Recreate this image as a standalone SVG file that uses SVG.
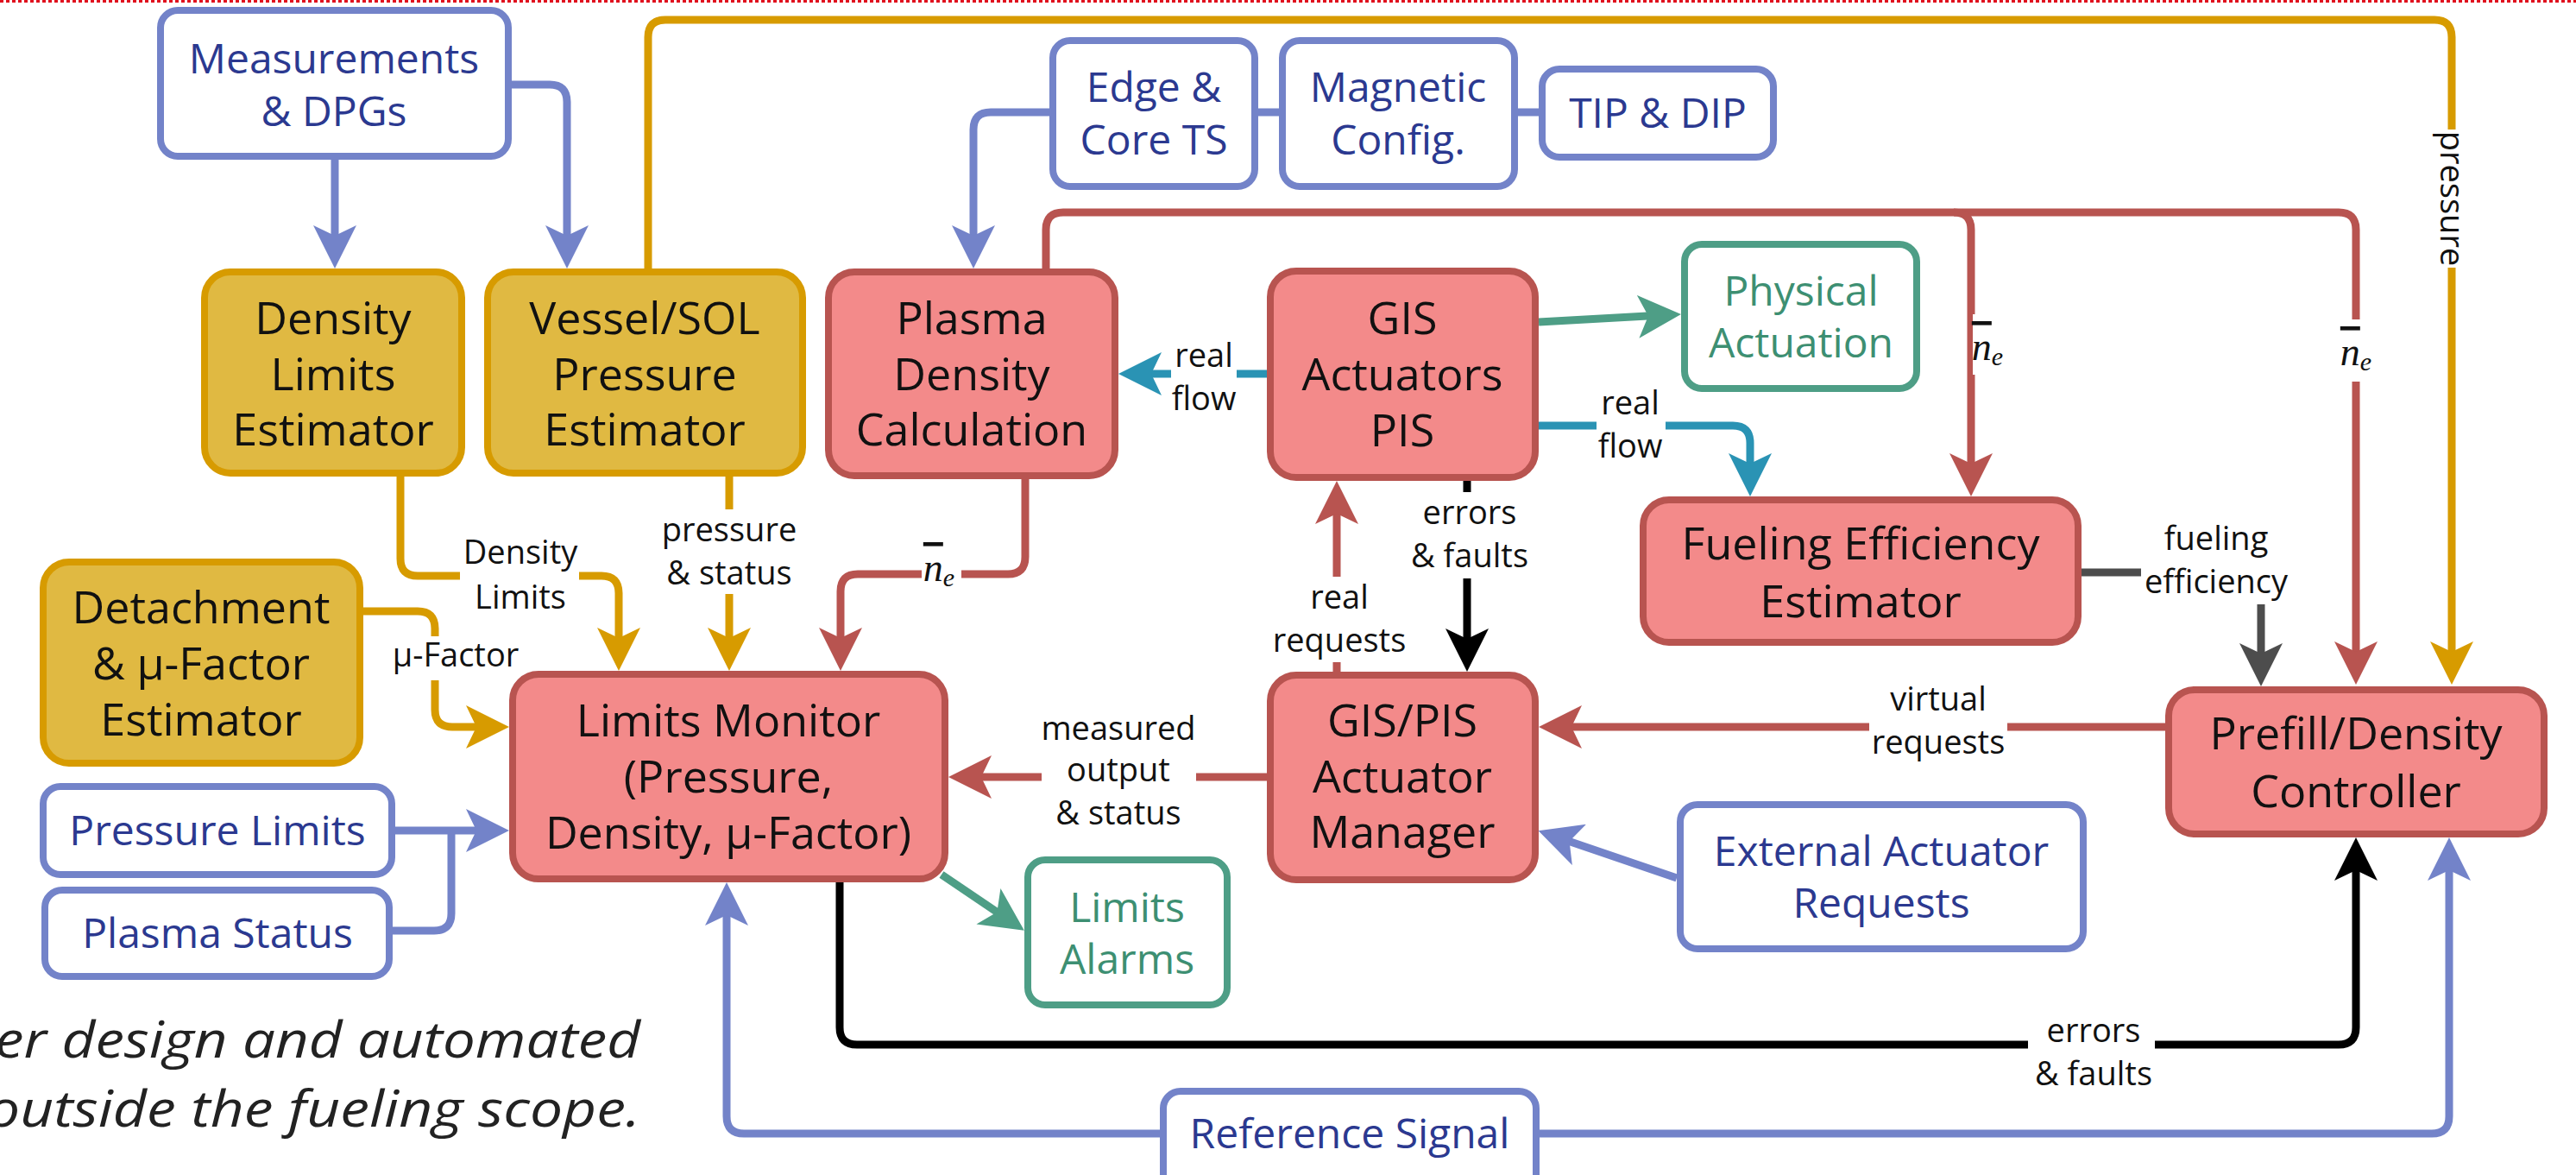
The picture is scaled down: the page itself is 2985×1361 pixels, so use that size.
<svg xmlns="http://www.w3.org/2000/svg" width="2985" height="1361" viewBox="0 0 2985 1361">
<style>
  .nr rect{fill:#F38A8A;stroke:#B85450;stroke-width:8}
  .ng rect{fill:#E0B942;stroke:#D79B00;stroke-width:8}
  .nb rect{fill:#fff;stroke:#7383C9;stroke-width:8}
  .ngr rect{fill:#fff;stroke:#4E9E86;stroke-width:8}
  text{font-family:"Open Sans","Noto Sans","DejaVu Sans",sans-serif;text-anchor:middle}
  .tm{font-size:52px;fill:#111}
  .tb{font-size:48px;fill:#2B3990}
  .tg{font-size:48px;fill:#3D8F72}
  .lbl{font-size:38px;fill:#111}
  .c{fill:none;stroke-width:9}
  .bg{fill:#fff}
  .blue{stroke:#7383C9}.gold{stroke:#D79B00}.red{stroke:#B85450}.blk{stroke:#000}.gray{stroke:#4D4D4D}.teal{stroke:#2A93B4}.green{stroke:#4E9E86}
  .ne{font-family:"Liberation Serif","DejaVu Serif",serif;font-style:italic;font-size:46px;fill:#111}
  .cap{font-style:italic;font-size:58px;fill:#222;text-anchor:end}
</style>
<defs>
  <marker id="ab" viewBox="-50 -25 50 50" refX="-30" refY="0" markerWidth="50" markerHeight="50" markerUnits="userSpaceOnUse" orient="auto"><path d="M0,0 L-50,-25 L-38,0 L-50,25 Z" fill="#7383C9"/></marker>
  <marker id="ag" viewBox="-50 -25 50 50" refX="-30" refY="0" markerWidth="50" markerHeight="50" markerUnits="userSpaceOnUse" orient="auto"><path d="M0,0 L-50,-25 L-38,0 L-50,25 Z" fill="#D79B00"/></marker>
  <marker id="ar" viewBox="-50 -25 50 50" refX="-30" refY="0" markerWidth="50" markerHeight="50" markerUnits="userSpaceOnUse" orient="auto"><path d="M0,0 L-50,-25 L-38,0 L-50,25 Z" fill="#B85450"/></marker>
  <marker id="ak" viewBox="-50 -25 50 50" refX="-30" refY="0" markerWidth="50" markerHeight="50" markerUnits="userSpaceOnUse" orient="auto"><path d="M0,0 L-50,-25 L-38,0 L-50,25 Z" fill="#000"/></marker>
  <marker id="ay" viewBox="-50 -25 50 50" refX="-30" refY="0" markerWidth="50" markerHeight="50" markerUnits="userSpaceOnUse" orient="auto"><path d="M0,0 L-50,-25 L-38,0 L-50,25 Z" fill="#4D4D4D"/></marker>
  <marker id="at" viewBox="-50 -25 50 50" refX="-30" refY="0" markerWidth="50" markerHeight="50" markerUnits="userSpaceOnUse" orient="auto"><path d="M0,0 L-50,-25 L-38,0 L-50,25 Z" fill="#2A93B4"/></marker>
  <marker id="an" viewBox="-50 -25 50 50" refX="-30" refY="0" markerWidth="50" markerHeight="50" markerUnits="userSpaceOnUse" orient="auto"><path d="M0,0 L-50,-25 L-38,0 L-50,25 Z" fill="#4E9E86"/></marker>
</defs>
<rect x="0" y="0" width="2985" height="1361" fill="#fff"/>
<line x1="0" y1="1.5" x2="2985" y2="1.5" stroke="#E0101E" stroke-width="3" stroke-dasharray="4 3"/>

<g id="connectors">
  <!-- blue -->
  <path class="c blue" d="M388,185 V281" marker-end="url(#ab)"/>
  <path class="c blue" d="M593,98 H637 Q657,98 657,118 V281" marker-end="url(#ab)"/>
  <path class="c blue" d="M1783,130 H1759 M1482,130 H1458"/>
  <path class="c blue" d="M1216,130 H1148 Q1128,130 1128,150 V281" marker-end="url(#ab)"/>
  <path class="c blue" d="M458,962 H560" marker-end="url(#ab)"/>
  <path class="c blue" d="M455,1078 H503 Q523,1078 523,1058 V962"/>
  <path class="c blue" d="M1943,1017 L1811,972" marker-end="url(#ab)"/>
  <path class="c blue" d="M1344,1313 H862 Q842,1313 842,1293 V1052" marker-end="url(#ab)"/>
  <path class="c blue" d="M1784,1313 H2818 Q2838,1313 2838,1293 V1000" marker-end="url(#ab)"/>
  <!-- gold -->
  <path class="c gold" d="M464,552 V647 Q464,667 484,667 H697 Q717,667 717,687 V747" marker-end="url(#ag)"/>
  <path class="c gold" d="M845,552 V747" marker-end="url(#ag)"/>
  <path class="c gold" d="M421,708 H484 Q504,708 504,728 V822 Q504,842 524,842 H560" marker-end="url(#ag)"/>
  <path class="c gold" d="M751,311 V43 Q751,23 771,23 H2821 Q2841,23 2841,43 V763" marker-end="url(#ag)"/>
  <!-- red -->
  <path class="c red" d="M1188,555 V645 Q1188,665 1168,665 H994 Q974,665 974,685 V747" marker-end="url(#ar)"/>
  <path class="c red" d="M1212,311 V266 Q1212,246 1232,246 H2710 Q2730,246 2730,266 V763" marker-end="url(#ar)"/>
  <path class="c red" d="M2264,246 Q2284,246 2284,266 V545" marker-end="url(#ar)"/>
  <path class="c red" d="M1549,778 V587" marker-end="url(#ar)"/>
  <path class="c red" d="M1468,900 H1129" marker-end="url(#ar)"/>
  <path class="c red" d="M2509,842 H1813" marker-end="url(#ar)"/>
  <!-- black -->
  <path class="c blk" d="M1700,557 V748" marker-end="url(#ak)"/>
  <path class="c blk" d="M973,1022 V1190 Q973,1210 993,1210 H2710 Q2730,1210 2730,1190 V1000" marker-end="url(#ak)"/>
  <!-- gray -->
  <path class="c gray" d="M2412,663 H2600 Q2620,663 2620,683 V765" marker-end="url(#ay)"/>
  <!-- teal -->
  <path class="c teal" d="M1468,433 H1326" marker-end="url(#at)"/>
  <path class="c teal" d="M1783,493 H2008 Q2028,493 2028,513 V545" marker-end="url(#at)"/>
  <!-- green -->
  <path class="c green" d="M1783,373 L1918,365.6" marker-end="url(#an)"/>
  <path class="c green" d="M1091,1013 L1162,1061" marker-end="url(#an)"/>

  <!-- labels -->
  <g><rect class="bg" x="533" y="612" width="138" height="105"/><text class="lbl"><tspan x="603" y="653">Density</tspan><tspan x="603" y="705">Limits</tspan></text></g>
  <g><rect class="bg" x="790" y="590" width="110" height="98"/><text class="lbl"><tspan x="845" y="627">pressure</tspan><tspan x="845" y="677">&amp; status</tspan></text></g>
  <g><rect class="bg" x="455" y="737" width="148" height="51"/><text class="lbl" x="528" y="772">μ-Factor</text></g>
  <g><rect class="bg" x="1068" y="628" width="46" height="60"/><text class="ne" x="1088" y="673"><tspan text-decoration="overline">n</tspan><tspan font-size="30px" dy="6">e</tspan></text></g>
  <g><rect class="bg" x="2286" y="364" width="36" height="70"/><text class="ne" x="2303" y="417"><tspan text-decoration="overline">n</tspan><tspan font-size="30px" dy="6">e</tspan></text></g>
  <g><rect class="bg" x="2706" y="370" width="48" height="72"/><text class="ne" x="2730" y="423"><tspan text-decoration="overline">n</tspan><tspan font-size="30px" dy="6">e</tspan></text></g>
  <g><rect class="bg" x="1357" y="395" width="76" height="92"/><text class="lbl"><tspan x="1395" y="425">real</tspan><tspan x="1395" y="475">flow</tspan></text></g>
  <g><rect class="bg" x="1850" y="450" width="80" height="92"/><text class="lbl"><tspan x="1889" y="480">real</tspan><tspan x="1889" y="530">flow</tspan></text></g>
  <g><rect class="bg" x="1640" y="570" width="120" height="100"/><text class="lbl"><tspan x="1703" y="607">errors</tspan><tspan x="1703" y="657">&amp; faults</tspan></text></g>
  <g><rect class="bg" x="1480" y="668" width="140" height="99"/><text class="lbl"><tspan x="1552" y="705">real</tspan><tspan x="1552" y="755">requests</tspan></text></g>
  <g><rect class="bg" x="1207" y="815" width="179" height="155"/><text class="lbl"><tspan x="1296" y="857">measured</tspan><tspan x="1296" y="905">output</tspan><tspan x="1296" y="955">&amp; status</tspan></text></g>
  <g><rect class="bg" x="2166" y="785" width="160" height="105"/><text class="lbl"><tspan x="2246" y="823">virtual</tspan><tspan x="2246" y="873">requests</tspan></text></g>
  <g><rect class="bg" x="2481" y="598" width="175" height="102"/><text class="lbl"><tspan x="2568" y="637">fueling</tspan><tspan x="2568" y="687">efficiency</tspan></text></g>
  <g><rect class="bg" x="2350" y="1175" width="147" height="95"/><text class="lbl"><tspan x="2426" y="1207">errors</tspan><tspan x="2426" y="1257">&amp; faults</tspan></text></g>
  <g><rect class="bg" x="2824" y="150" width="34" height="160"/><text class="lbl" transform="translate(2841,230) rotate(90)" x="0" y="13">pressure</text></g>
</g>

<g id="n-measurements" class="nb"><rect x="186" y="12" width="403" height="169" rx="20"/><text class="tb"><tspan x="387" y="85">Measurements</tspan><tspan x="387" y="146">&amp; DPGs</tspan></text></g>
<g id="n-density-limits" class="ng"><rect x="237" y="315" width="298" height="233" rx="30"/><text class="tm"><tspan x="386" y="387">Density</tspan><tspan x="386" y="452">Limits</tspan><tspan x="386" y="516">Estimator</tspan></text></g>
<g id="n-vessel" class="ng"><rect x="565" y="315" width="365" height="233" rx="30"/><text class="tm"><tspan x="747" y="387">Vessel/SOL</tspan><tspan x="747" y="452">Pressure</tspan><tspan x="747" y="516">Estimator</tspan></text></g>
<g id="n-plasma-density" class="nr"><rect x="960" y="315" width="332" height="236" rx="30"/><text class="tm"><tspan x="1126" y="387">Plasma</tspan><tspan x="1126" y="452">Density</tspan><tspan x="1126" y="516">Calculation</tspan></text></g>
<g id="n-gis-actuators" class="nr"><rect x="1472" y="314" width="307" height="239" rx="30"/><text class="tm"><tspan x="1625" y="387">GIS</tspan><tspan x="1625" y="452">Actuators</tspan><tspan x="1625" y="517">PIS</tspan></text></g>
<g id="n-edge-core" class="nb"><rect x="1220" y="47" width="234" height="169" rx="20"/><text class="tb"><tspan x="1337" y="118">Edge &amp;</tspan><tspan x="1337" y="179">Core TS</tspan></text></g>
<g id="n-magnetic" class="nb"><rect x="1486" y="47" width="269" height="169" rx="20"/><text class="tb"><tspan x="1620" y="118">Magnetic</tspan><tspan x="1620" y="179">Config.</tspan></text></g>
<g id="n-tip-dip" class="nb"><rect x="1787" y="80" width="268" height="102" rx="20"/><text class="tb" x="1921" y="148">TIP &amp; DIP</text></g>
<g id="n-physical" class="ngr"><rect x="1952" y="283" width="269" height="167" rx="20"/><text class="tg"><tspan x="2087" y="354">Physical</tspan><tspan x="2087" y="414">Actuation</tspan></text></g>
<g id="n-fueling" class="nr"><rect x="1904" y="579" width="504" height="165" rx="30"/><text class="tm"><tspan x="2156" y="648">Fueling Efficiency</tspan><tspan x="2156" y="715">Estimator</tspan></text></g>
<g id="n-prefill" class="nr"><rect x="2513" y="799" width="435" height="167" rx="30"/><text class="tm"><tspan x="2730" y="868">Prefill/Density</tspan><tspan x="2730" y="935">Controller</tspan></text></g>
<g id="n-manager" class="nr"><rect x="1472" y="782" width="307" height="237" rx="30"/><text class="tm"><tspan x="1625" y="853">GIS/PIS</tspan><tspan x="1625" y="918">Actuator</tspan><tspan x="1625" y="982">Manager</tspan></text></g>
<g id="n-limits-monitor" class="nr"><rect x="594" y="781" width="501" height="237" rx="30"/><text class="tm"><tspan x="844" y="853">Limits Monitor</tspan><tspan x="844" y="918">(Pressure,</tspan><tspan x="844" y="983">Density, μ-Factor)</tspan></text></g>
<g id="n-detachment" class="ng"><rect x="50" y="651" width="367" height="233" rx="30"/><text class="tm"><tspan x="233" y="722">Detachment</tspan><tspan x="233" y="787">&amp; μ-Factor</tspan><tspan x="233" y="852">Estimator</tspan></text></g>
<g id="n-pressure-limits" class="nb"><rect x="50" y="911" width="404" height="102" rx="20"/><text class="tb" x="252" y="979">Pressure Limits</text></g>
<g id="n-plasma-status" class="nb"><rect x="52" y="1031" width="399" height="100" rx="20"/><text class="tb" x="252" y="1098">Plasma Status</text></g>
<g id="n-limits-alarms" class="ngr"><rect x="1191" y="996" width="231" height="168" rx="20"/><text class="tg"><tspan x="1306" y="1068">Limits</tspan><tspan x="1306" y="1128">Alarms</tspan></text></g>
<g id="n-external" class="nb"><rect x="1947" y="932" width="467" height="167" rx="20"/><text class="tb"><tspan x="2180" y="1003">External Actuator</tspan><tspan x="2180" y="1063">Requests</tspan></text></g>
<g id="n-reference" class="nb"><rect x="1348" y="1264" width="432" height="130" rx="20"/><text class="tb" x="1564" y="1330">Reference Signal</text></g>

<g id="caption">
  <text class="cap" x="742" y="1225" textLength="748" lengthAdjust="spacingAndGlyphs">er design and automated</text>
  <text class="cap" x="742" y="1305" textLength="757" lengthAdjust="spacingAndGlyphs">outside the fueling scope.</text>
</g>
</svg>
